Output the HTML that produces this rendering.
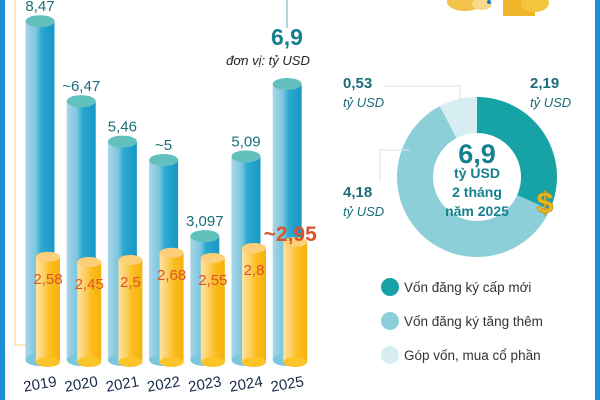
<!DOCTYPE html>
<html><head><meta charset="utf-8"><style>
html,body{margin:0;padding:0;background:#fff;}
svg{display:block;font-family:"Liberation Sans","DejaVu Sans",sans-serif;}
</style></head><body>
<svg id="chart" width="600" height="400" viewBox="0 0 600 400">
<defs>
<linearGradient id="gBlue" x1="0" x2="1" y1="0" y2="0">
<stop offset="0" stop-color="#a9d6e6"/><stop offset="0.35" stop-color="#7cc6de"/><stop offset="0.55" stop-color="#2aa9d2"/><stop offset="1" stop-color="#1996c4"/></linearGradient>
<linearGradient id="gYel" x1="0" x2="1" y1="0" y2="0">
<stop offset="0" stop-color="#fde3a0"/><stop offset="0.3" stop-color="#fdd06a"/><stop offset="0.6" stop-color="#fbbd1c"/><stop offset="1" stop-color="#f6b10e"/></linearGradient>
</defs>
<rect x="0" y="0" width="5" height="400" fill="#1e8fd6"/>
<rect x="595" y="0" width="5" height="400" fill="#1e8fd6"/>
<path d="M15 0 V345 H42" fill="none" stroke="#f3dc98" stroke-width="1.2"/>
<line x1="287" y1="0" x2="287" y2="28" stroke="#6aaab8" stroke-width="1"/>
<text x="287" y="45" text-anchor="middle" font-size="23" font-weight="bold" fill="#16808e">6,9</text>
<text x="268" y="65" text-anchor="middle" font-size="13" font-style="italic" fill="#222">đơn vị: tỷ USD</text>
<g id="bars"></g>
<g>
<ellipse cx="465" cy="2" rx="18" ry="9" fill="#f2c24a"/><ellipse cx="482" cy="4" rx="10" ry="6" fill="#f7d98a"/>
<rect x="503" y="0" width="32" height="16" fill="#f0b52a"/><ellipse cx="535" cy="3" rx="14" ry="9" fill="#f4c640"/>
<circle cx="489" cy="2" r="2" fill="#1e6fd6"/>
</g>
<g id="donut"></g>
<text x="343" y="88" font-size="15" font-weight="bold" fill="#1b6d7a">0,53</text>
<text x="343" y="107" font-size="13" font-style="italic" fill="#1b6d7a">tỷ USD</text>
<text x="530" y="88" font-size="15" font-weight="bold" fill="#1b6d7a">2,19</text>
<text x="530" y="107" font-size="13" font-style="italic" fill="#1b6d7a">tỷ USD</text>
<text x="343" y="197" font-size="15" font-weight="bold" fill="#1b6d7a">4,18</text>
<text x="343" y="216" font-size="13" font-style="italic" fill="#1b6d7a">tỷ USD</text>
<path d="M383 86 H460 V104" fill="none" stroke="#d8e4e8" stroke-width="1"/>
<path d="M380 180 V150 H410" fill="none" stroke="#d8e4e8" stroke-width="1"/>
<text x="477" y="163" text-anchor="middle" font-size="27" font-weight="bold" fill="#16808e">6,9</text>
<text x="477" y="178" text-anchor="middle" font-size="14" font-weight="bold" fill="#16808e">tỷ USD</text>
<text x="477" y="197" text-anchor="middle" font-size="14" font-weight="bold" fill="#16808e">2 tháng</text>
<text x="477" y="216" text-anchor="middle" font-size="14" font-weight="bold" fill="#16808e">năm 2025</text>
<text x="545" y="213" text-anchor="middle" font-size="30" font-weight="bold" fill="#e8b820" stroke="#c7921a" stroke-width="0.8">$</text>
<g>
<circle cx="390" cy="287" r="9" fill="#17a3a6"/>
<text x="404" y="292" font-size="13.5" fill="#333">Vốn đăng ký cấp mới</text>
<circle cx="390" cy="321" r="9" fill="#8dcfd8"/>
<text x="404" y="326" font-size="13.5" fill="#333">Vốn đăng ký tăng thêm</text>
<circle cx="390" cy="355" r="9" fill="#d6eef2"/>
<text x="404" y="360" font-size="13.5" fill="#333">Góp vốn, mua cổ phần</text>
</g>
</svg>
<script>
const years = ["2019","2020","2021","2022","2023","2024","2025"];
const totalValues = [8.47, 6.47, 5.46, 5.0, 3.097, 5.09, 6.9];
const totalLabels = ["8,47", "~6,47", "5,46", "~5", "3,097", "5,09", ""];
const disbValues = [2.58, 2.45, 2.5, 2.68, 2.55, 2.8, 2.95];
const disbLabels = ["2,58", "2,45", "2,5", "2,68", "2,55", "2,8", "~2,95"];
const donutCats = ["Vốn đăng ký cấp mới", "Vốn đăng ký tăng thêm", "Góp vốn, mua cổ phần"];
const donutValues = [2.19, 4.18, 0.53];

const NS = "http://www.w3.org/2000/svg";
function mk(tag, attrs, parent){const e=document.createElementNS(NS,tag);for(const k in attrs)e.setAttribute(k,attrs[k]);parent.appendChild(e);return e;}
const baseY = 360, pxPerUnit = 40;
function yScale(v){return baseY - v*pxPerUnit;}
function xScale(i){return 40 + i*41.2;}
const bars = document.getElementById("bars");
years.forEach((yr,i)=>{
  const cx = xScale(i), w=29, ry=6;
  const top = yScale(totalValues[i]);
  const g = mk("g",{},bars);
  
  
  mk("rect",{x:cx-w/2,y:top,width:w,height:baseY-top,fill:"url(#gBlue)"},g);
  mk("ellipse",{cx:cx,cy:baseY,rx:w/2,ry:ry,fill:"#7cc6de"},g);
  mk("ellipse",{cx:cx,cy:top,rx:w/2,ry:ry,fill:"#63c1bd"},g);
  if(totalLabels[i]){
    const t=mk("text",{x:cx,y:top-10,"text-anchor":"middle","font-size":"15",fill:"#1b6d7a"},bars);
    t.textContent=totalLabels[i];
    
    
  }
  const yx = cx+8, yw=24, ytop=yScale(disbValues[i]);
  const gy = mk("g",{},bars);
  
  
  mk("rect",{x:yx-yw/2,y:ytop,width:yw,height:baseY-ytop+2,fill:"url(#gYel)"},gy);
  mk("ellipse",{cx:yx,cy:baseY+2,rx:yw/2,ry:5,fill:"#fbc52a"},gy);
  mk("ellipse",{cx:yx,cy:ytop,rx:yw/2,ry:5,fill:"#fdcf7a"},gy);
  const last = i===years.length-1;
  const lt=mk("text",{x:last?cx+3:cx+8,y:last?ytop-1:ytop+27,"text-anchor":"middle","font-size":last?"21":"15","font-weight":last?"bold":"normal",fill:"#d9542a"},bars);
  lt.textContent=disbLabels[i];
  
  
  const yl=mk("text",{x:cx,y:389,"text-anchor":"middle","font-size":"15",fill:"#1a2a4a",transform:"rotate(-10 "+cx+" 384)"},bars);
  yl.textContent=yr;
  
  
});
const donut = document.getElementById("donut");
const dcx=477, dcy=177, R=80, r=44;
const colors=["#17a3a6","#8dcfd8","#d6eef2"];
const total = donutValues.reduce((a,b)=>a+b,0);
let ang=0;
function pt(rad,a){return [dcx+rad*Math.sin(a), dcy-rad*Math.cos(a)];}
donutValues.forEach((v,i)=>{
  const a0=ang, a1=ang+v/total*2*Math.PI; ang=a1;
  const large=(a1-a0)>Math.PI?1:0;
  const p0=pt(R,a0),p1=pt(R,a1),q1=pt(r,a1),q0=pt(r,a0);
  const p=mk("path",{d:`M${p0} A${R} ${R} 0 ${large} 1 ${p1} L${q1} A${r} ${r} 0 ${large} 0 ${q0} Z`,fill:colors[i]},donut);
  
  
});
</script>
</body></html>
